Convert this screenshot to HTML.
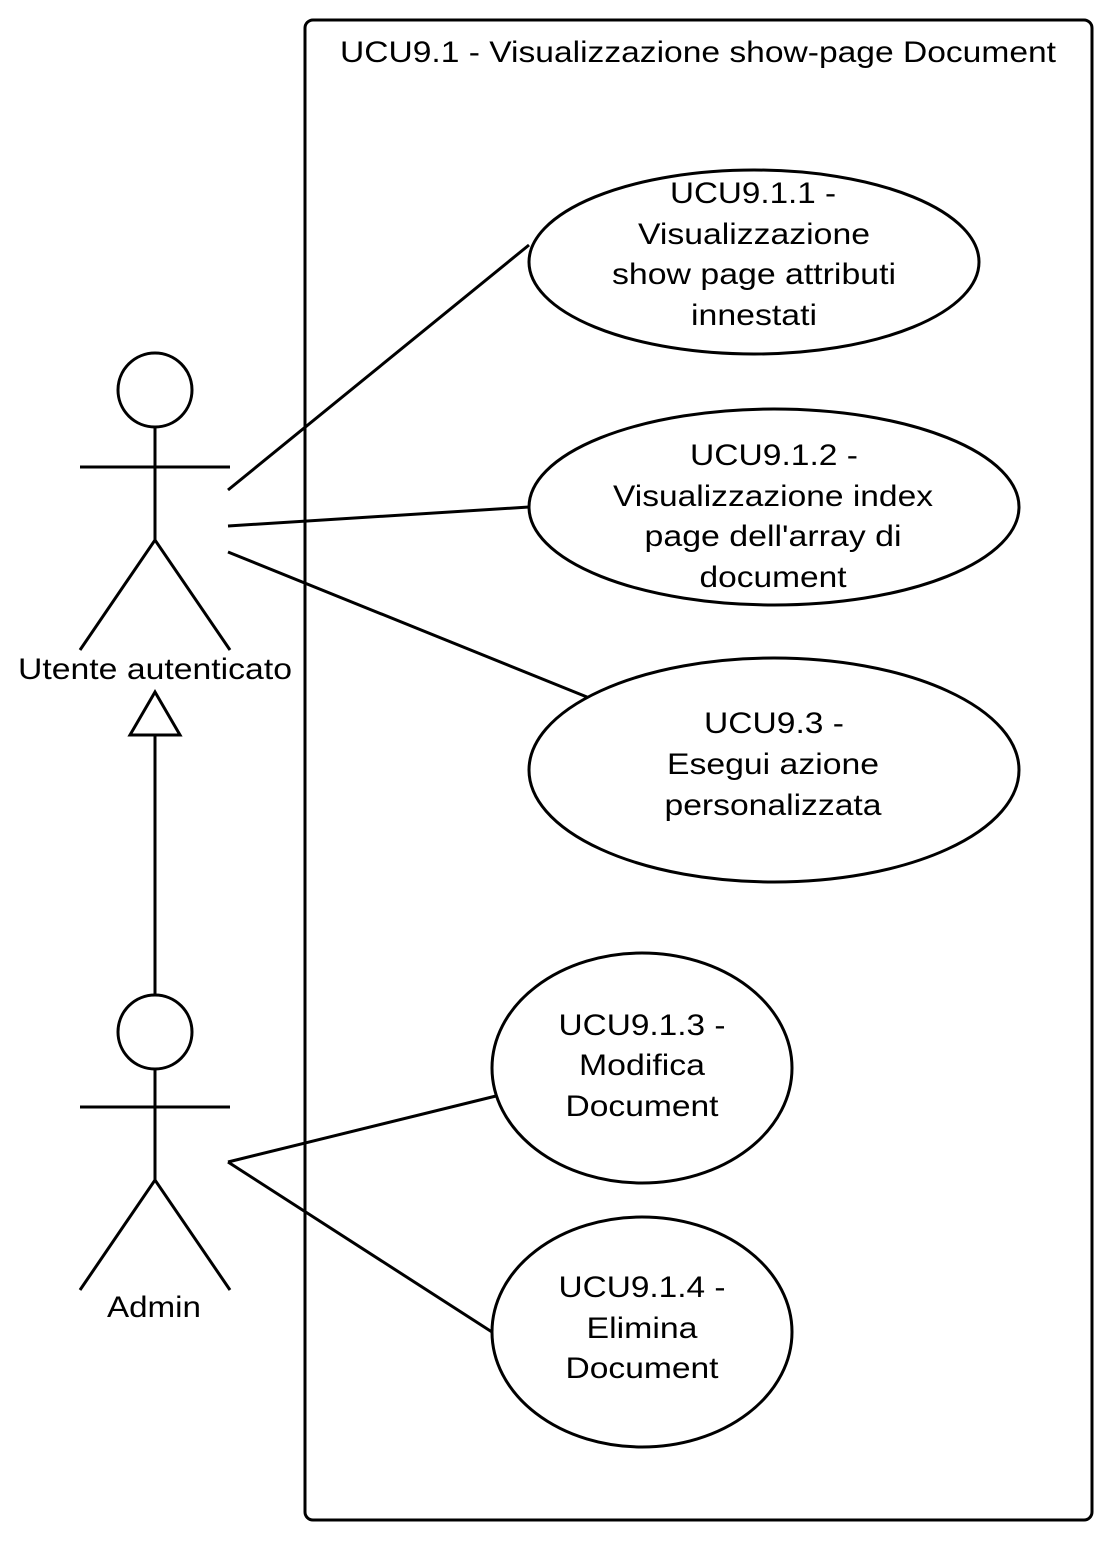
<!DOCTYPE html>
<html><head><meta charset="utf-8"><style>html,body{margin:0;padding:0;background:#fff}svg{display:block}</style></head>
<body>
<svg width="1114" height="1542" xmlns="http://www.w3.org/2000/svg" font-family="Liberation Sans, sans-serif" font-size="30" fill="none" stroke="#000" stroke-width="3">
<rect x="305" y="20" width="787" height="1500" rx="8" ry="8"/>
<g stroke-width="3">
<line x1="228" y1="490" x2="529" y2="245"/>
<line x1="228" y1="526" x2="529" y2="507"/>
<line x1="228" y1="552" x2="587" y2="697"/>
<line x1="228" y1="1162" x2="496" y2="1096"/>
<line x1="228" y1="1162" x2="492" y2="1332"/>
</g>
<ellipse cx="754" cy="262" rx="225" ry="92" fill="#fff"/>
<ellipse cx="774" cy="507" rx="245" ry="98" fill="#fff"/>
<ellipse cx="774" cy="770" rx="245" ry="112" fill="#fff"/>
<ellipse cx="642" cy="1068" rx="150" ry="115" fill="#fff"/>
<ellipse cx="642" cy="1332" rx="150" ry="115" fill="#fff"/>
<circle cx="155" cy="390" r="37" fill="#fff"/>
<line x1="155" y1="427" x2="155" y2="540"/>
<line x1="80" y1="467" x2="230" y2="467"/>
<polyline points="80,650 155,540 230,650"/>
<line x1="155" y1="995" x2="155" y2="735"/>
<polygon points="130,735 180,735 155,692" fill="#fff"/>
<circle cx="155" cy="1032" r="37" fill="#fff"/>
<line x1="155" y1="1069" x2="155" y2="1180"/>
<line x1="80" y1="1107" x2="230" y2="1107"/>
<polyline points="80,1290 155,1180 230,1290"/>
<g fill="#000" stroke="none" text-anchor="middle" lengthAdjust="spacingAndGlyphs">
<text x="698" y="62" textLength="716" lengthAdjust="spacingAndGlyphs">UCU9.1 - Visualizzazione show-page Document</text>
<text x="155" y="679" textLength="274" lengthAdjust="spacingAndGlyphs">Utente autenticato</text>
<text x="154" y="1317" textLength="94" lengthAdjust="spacingAndGlyphs">Admin</text>
<text x="753" y="203" textLength="166" lengthAdjust="spacingAndGlyphs">UCU9.1.1 -</text>
<text x="754" y="244" textLength="232" lengthAdjust="spacingAndGlyphs">Visualizzazione</text>
<text x="754" y="284" textLength="284" lengthAdjust="spacingAndGlyphs">show page attributi</text>
<text x="754" y="325" textLength="126" lengthAdjust="spacingAndGlyphs">innestati</text>
<text x="774" y="465" textLength="168" lengthAdjust="spacingAndGlyphs">UCU9.1.2 -</text>
<text x="773" y="506" textLength="320" lengthAdjust="spacingAndGlyphs">Visualizzazione index</text>
<text x="773" y="546" textLength="257" lengthAdjust="spacingAndGlyphs">page dell'array di</text>
<text x="773" y="587" textLength="147" lengthAdjust="spacingAndGlyphs">document</text>
<text x="774" y="733" textLength="140" lengthAdjust="spacingAndGlyphs">UCU9.3 -</text>
<text x="773" y="774" textLength="212" lengthAdjust="spacingAndGlyphs">Esegui azione</text>
<text x="773" y="815" textLength="217" lengthAdjust="spacingAndGlyphs">personalizzata</text>
<text x="642" y="1035" textLength="167" lengthAdjust="spacingAndGlyphs">UCU9.1.3 -</text>
<text x="642" y="1075" textLength="126" lengthAdjust="spacingAndGlyphs">Modifica</text>
<text x="642" y="1116" textLength="153" lengthAdjust="spacingAndGlyphs">Document</text>
<text x="642" y="1297" textLength="167" lengthAdjust="spacingAndGlyphs">UCU9.1.4 -</text>
<text x="642" y="1338" textLength="111" lengthAdjust="spacingAndGlyphs">Elimina</text>
<text x="642" y="1378" textLength="153" lengthAdjust="spacingAndGlyphs">Document</text>
</g>
</svg>
</body></html>
